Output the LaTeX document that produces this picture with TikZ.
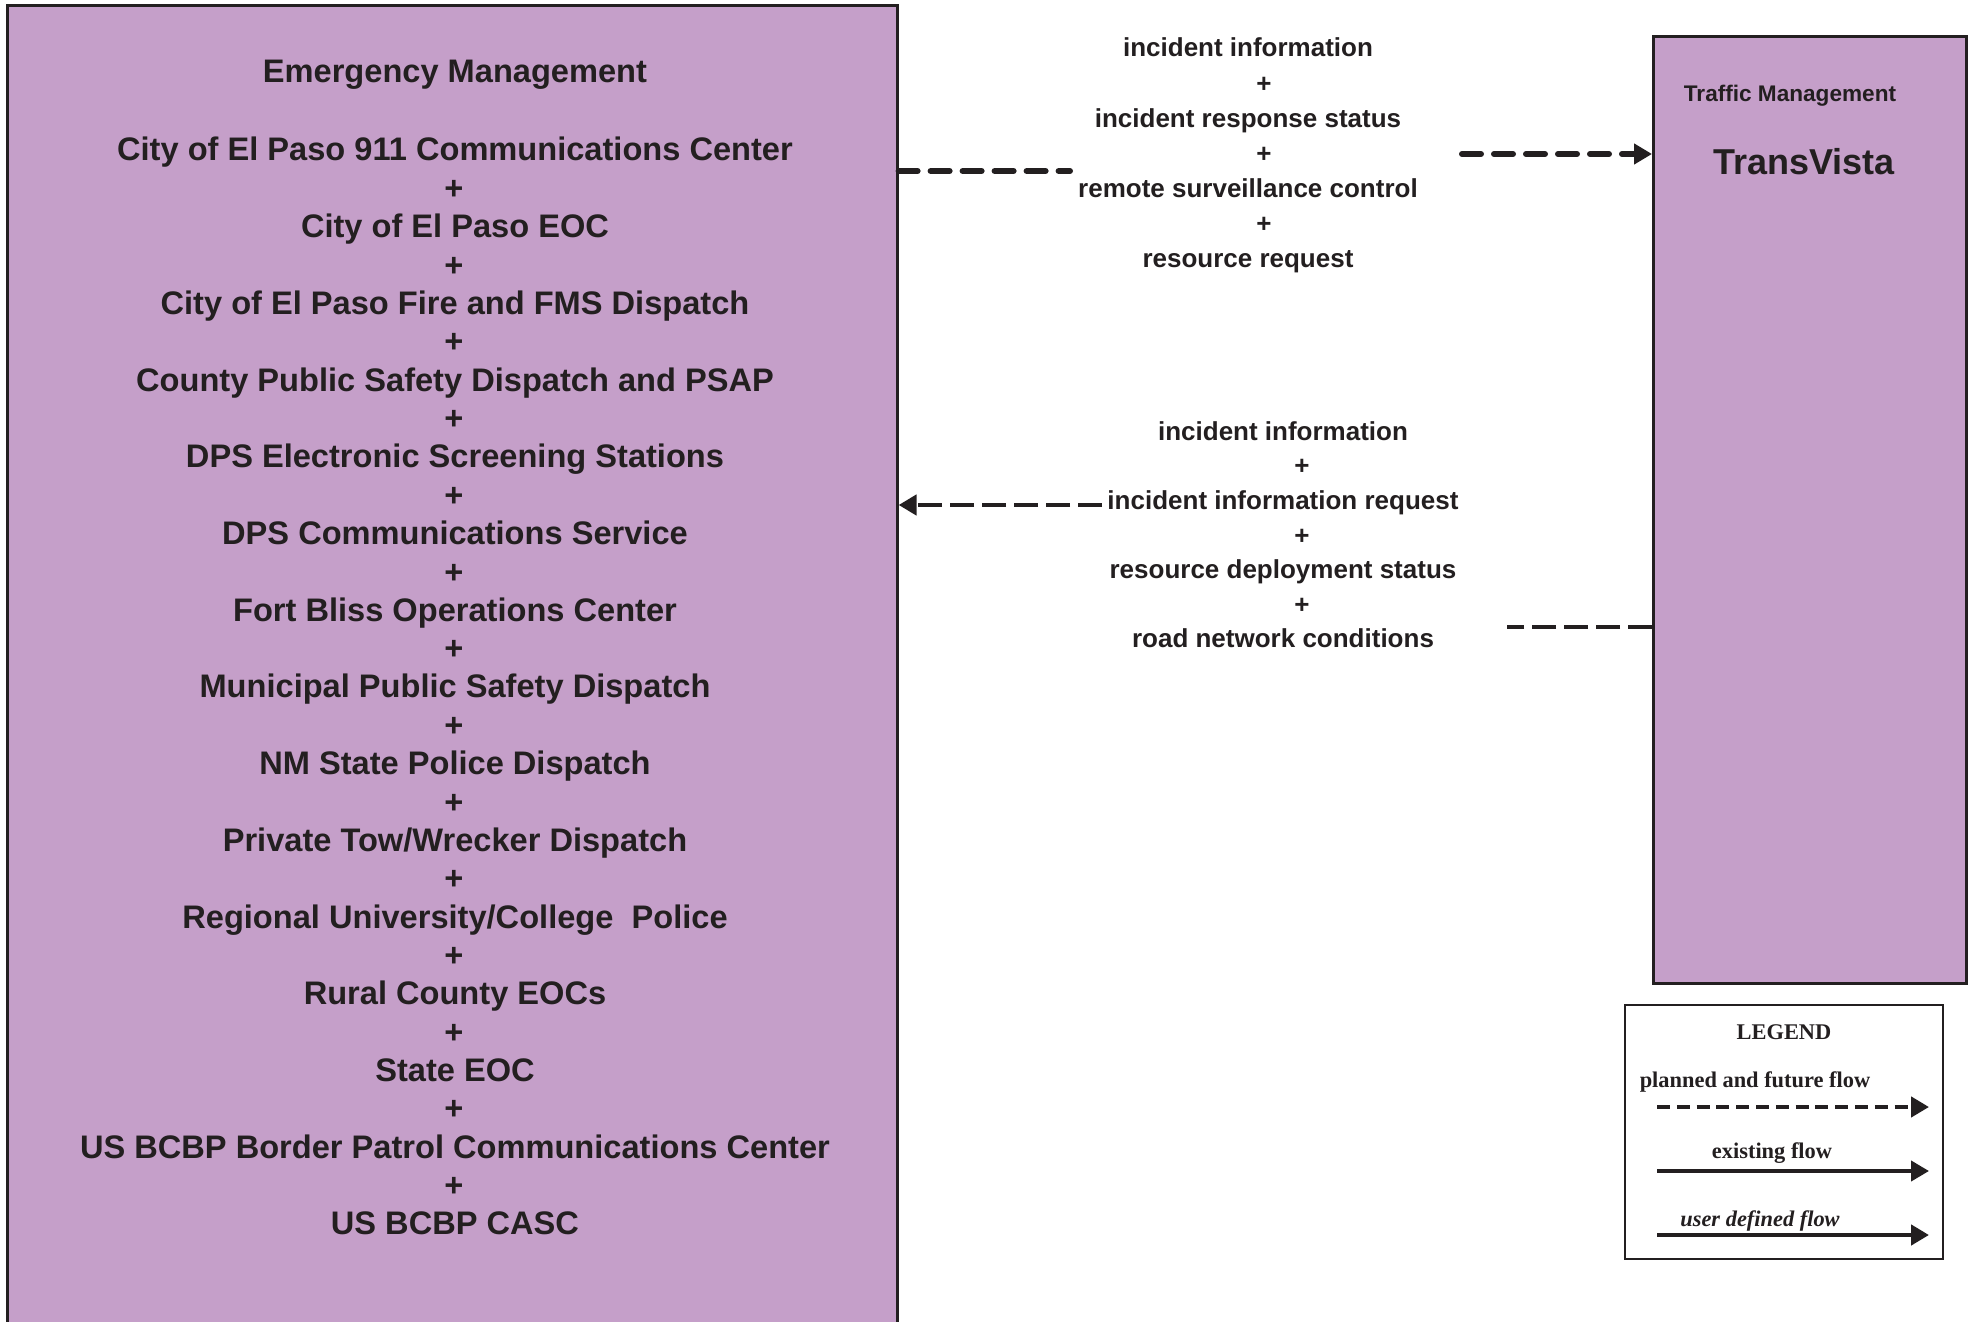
\documentclass[tikz,border=0pt]{standalone}
\usepackage{fontspec}
\setmainfont{Liberation Sans}
\newfontfamily\legendfont{Liberation Serif}
\usetikzlibrary{arrows.meta}
\definecolor{empurple}{RGB}{197,159,201}
\definecolor{inkgray}{RGB}{35,31,32}

\begin{document}
\begin{tikzpicture}[x=0.5pt, y=-0.5pt,
  sysbox/.style={draw=inkgray, fill=empurple, line width=1.3pt, inner sep=0pt},
  boxtext/.style={font=\bfseries\fontsize{16.3}{19}\selectfont, text=inkgray, inner sep=0pt, anchor=base},
  flowtext/.style={font=\bfseries\fontsize{13}{15}\selectfont, text=inkgray, inner sep=0pt, anchor=base},
  legtext/.style={font=\legendfont\bfseries\fontsize{11.2}{13}\selectfont, text=inkgray, inner sep=0pt, anchor=base},
  planflow/.style={draw=inkgray, line width=3pt, dash pattern=on 9.5pt off 6.5pt, line cap=round},
  planflowb/.style={draw=inkgray, line width=2.3pt, dash pattern=on 12pt off 4pt},
  tip/.style={-{Triangle[length=9pt, width=10pt]}}
]
\useasboundingbox (0,0) rectangle (1972,1322);
% Emergency Management box
\node[sysbox, anchor=north west, minimum width=445pt, minimum height=668pt] (em) at (6,4) {};
\node[boxtext] (emtitle) at (455,83) {Emergency Management};
\foreach \name [count=\i from 0] in {City of El Paso 911 Communications Center, City of El Paso EOC,
    City of El Paso Fire and FMS Dispatch, County Public Safety Dispatch and PSAP,
    DPS Electronic Screening Stations, DPS Communications Service, Fort Bliss Operations Center,
    Municipal Public Safety Dispatch, NM State Police Dispatch, Private Tow/Wrecker Dispatch,
    Regional University/College\ \ Police, Rural County EOCs, State EOC,
    US BCBP Border Patrol Communications Center, US BCBP CASC}
  \node[boxtext] (em\i) at (455,161+76.7*\i) {\name};
\foreach \i in {1,...,14}
  \node[boxtext] (emplus\i) at (454,161+76.7*\i-38.2) {+};
% Traffic Management box
\node[sysbox, anchor=north west, minimum width=156.5pt, minimum height=473.5pt] (tv) at (1652,35) {};
\node[boxtext, font=\bfseries\fontsize{11.3}{13}\selectfont] (tvtitle) at (1790,102) {Traffic Management};
\node[boxtext, font=\bfseries\fontsize{18}{21}\selectfont] (tvname) at (1804,175) {TransVista};
% Flow to TransVista
\foreach \txt [count=\i from 0] in {incident information, incident response status,
    remote surveillance control, resource request}
  \node[flowtext] (up\i) at (1248,57+70.3*\i) {\txt};
\foreach \i in {1,2,3}
  \node[flowtext] (upplus\i) at (1264,57+70.3*\i-35.2) {+};
\coordinate (upA) at (1070,171);
\coordinate (upB) at (1462,154);
\draw[planflow] (em.east |- upA) -- (upA);
\draw[planflow, tip] (upB) -- (tv.west |- upB);
% Flow to Emergency Management
\foreach \txt [count=\i from 0] in {incident information, incident information request,
    resource deployment status, road network conditions}
  \node[flowtext] (dn\i) at (1283,440+69.3*\i) {\txt};
\foreach \i in {1,2,3}
  \node[flowtext] (dnplus\i) at (1302,440+69.3*\i-34.6) {+};
\coordinate (dnA) at (1507,627);
\coordinate (dnB) at (1102,505);
\draw[planflowb] (tv.west |- dnA) -- (dnA);
\draw[planflowb, tip] (dnB) -- (em.east |- dnB);
% Legend
\node[draw=inkgray, line width=1pt, fill=white, anchor=north west, minimum width=159pt, minimum height=127pt] (legend) at (1624,1004) {};
\node[legtext] (legtitle) at (1784,1039) {LEGEND};
\node[legtext] (legplan) at (1755,1087) {planned and future flow};
\node[legtext] (legexist) at (1772,1158) {existing flow};
\node[legtext, font=\legendfont\bfseries\itshape\fontsize{11.2}{13}\selectfont] (leguser) at (1760,1226) {user defined flow};
\coordinate (planA) at (1657,1107);
\coordinate (planB) at (1929,1107);
\coordinate (existA) at (1657,1171);
\coordinate (existB) at (1929,1171);
\coordinate (userA) at (1657,1235);
\coordinate (userB) at (1929,1235);
\draw[draw=inkgray, line width=2.2pt, dash pattern=on 6.5pt off 3.4pt, tip] (planA) -- (planB);
\draw[draw=inkgray, line width=2pt, tip] (existA) -- (existB);
\draw[draw=inkgray, line width=2.3pt, tip] (userA) -- (userB);
\end{tikzpicture}
\end{document}
